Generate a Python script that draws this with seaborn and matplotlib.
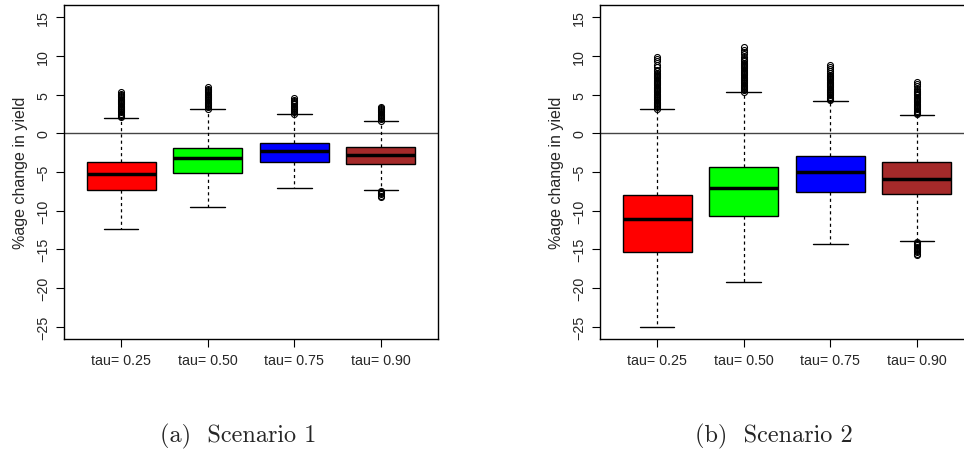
import numpy as np
import seaborn as sns
import matplotlib.pyplot as plt

# tau levels shown on the x axis
tau_labels = ['tau= 0.25', 'tau= 0.50', 'tau= 0.75', 'tau= 0.90']
box_colors = ['#ff0000', '#00ff00', '#0000ff', '#a52a2a']

# Scenario 1 box statistics
s1_whislo = [-12.4, -9.55, -7.1, -7.3]
s1_q1 = [-7.35, -5.1, -3.7, -4.0]
s1_med = [-5.2, -3.25, -2.3, -2.85]
s1_q3 = [-3.65, -1.85, -1.3, -1.8]
s1_whishi = [2.0, 3.1, 2.45, 1.55]
s1_fliers = [
    [2.1, 2.25, 2.4, 2.55, 2.7, 2.85, 3.0, 3.15, 3.3, 3.45, 3.6, 3.75, 3.9, 4.05, 4.2,
     4.35, 4.5, 4.65, 4.8, 4.95, 5.1, 5.3],
    [3.2, 3.35, 3.5, 3.65, 3.8, 3.95, 4.1, 4.25, 4.4, 4.55, 4.7, 4.85, 5.0, 5.15, 5.3,
     5.45, 5.6, 5.75, 5.95],
    [2.55, 2.7, 2.85, 3.0, 3.15, 3.3, 3.45, 3.6, 3.75, 3.9, 4.05, 4.2, 4.35, 4.55],
    [1.65, 1.8, 1.95, 2.1, 2.25, 2.4, 2.55, 2.7, 2.85, 3.0, 3.15, 3.3, 3.45,
     -7.45, -7.6, -7.75, -7.9, -8.05, -8.2],
]

# Scenario 2 box statistics
s2_whislo = [-25.0, -19.25, -14.3, -13.95]
s2_q1 = [-15.35, -10.75, -7.6, -7.85]
s2_med = [-11.1, -7.05, -4.95, -5.9]
s2_q3 = [-8.0, -4.35, -2.9, -3.75]
s2_whishi = [3.1, 5.3, 4.2, 2.4]
s2_fliers = [
    [3.2, 3.35, 3.5, 3.65, 3.8, 3.95, 4.1, 4.25, 4.4, 4.55, 4.7, 4.85, 5.0, 5.15, 5.3,
     5.45, 5.6, 5.75, 5.9, 6.05, 6.2, 6.35, 6.5, 6.65, 6.8, 6.95, 7.1, 7.25, 7.4, 7.55,
     7.7, 7.85, 8.0, 8.2, 8.6, 8.9, 9.3, 9.6, 9.85],
    [5.4, 5.55, 5.7, 5.85, 6.0, 6.15, 6.3, 6.45, 6.6, 6.75, 6.9, 7.05, 7.2, 7.35, 7.5,
     7.65, 7.8, 7.95, 8.1, 8.25, 8.4, 8.55, 8.7, 8.85, 9.0, 9.15, 9.3, 9.45, 9.6, 9.9,
     10.2, 10.5, 10.8, 11.2],
    [4.3, 4.45, 4.6, 4.75, 4.9, 5.05, 5.2, 5.35, 5.5, 5.65, 5.8, 5.95, 6.1, 6.25, 6.4,
     6.55, 6.7, 6.85, 7.0, 7.15, 7.3, 7.45, 7.6, 7.75, 8.0, 8.3, 8.6, 8.85],
    [2.5, 2.65, 2.8, 2.95, 3.1, 3.25, 3.4, 3.55, 3.7, 3.85, 4.0, 4.15, 4.3, 4.45, 4.6,
     4.75, 4.9, 5.05, 5.2, 5.35, 5.5, 5.8, 6.1, 6.4, 6.6,
     -14.05, -14.2, -14.35, -14.5, -14.65, -14.8, -14.95, -15.1, -15.25, -15.4, -15.55, -15.7],
]

panels = [
    ('(a)  Scenario 1', s1_whislo, s1_q1, s1_med, s1_q3, s1_whishi, s1_fliers),
    ('(b)  Scenario 2', s2_whislo, s2_q1, s2_med, s2_q3, s2_whishi, s2_fliers),
]

sns.set_style('ticks')
plt.rcParams['font.family'] = ['Liberation Sans', 'DejaVu Sans']

fig = plt.figure(figsize=(9.64, 4.52), dpi=100)
ax_lefts = [64 / 964, 600 / 964]
caption_x = [238 / 964, 774 / 964]

for i, (caption, wlo, q1, med, q3, whi, fl) in enumerate(panels):
    ax = fig.add_axes([ax_lefts[i], 112 / 452, 374 / 964, 334 / 452])
    stats = []
    for k in range(len(tau_labels)):
        stats.append(dict(whislo=wlo[k], q1=q1[k], med=med[k], q3=q3[k],
                          whishi=whi[k], fliers=fl[k], label=tau_labels[k]))
    bp = ax.bxp(stats, positions=np.arange(1, 5), widths=0.8, capwidths=0.4,
                patch_artist=True, showfliers=True,
                boxprops=dict(edgecolor='black', linewidth=1.0),
                medianprops=dict(color='black', linewidth=2.5, solid_capstyle='butt'),
                whiskerprops=dict(color='black', linewidth=0.9, linestyle=(0, (2.5, 2.5))),
                capprops=dict(color='black', linewidth=1.0),
                flierprops=dict(marker='o', markersize=4.3, markerfacecolor='none',
                                markeredgecolor='black', markeredgewidth=0.8))
    for patch, c in zip(bp['boxes'], box_colors):
        patch.set_facecolor(c)
    ax.axhline(0, color='#444444', linewidth=1.0, zorder=0)

    ax.set_xlim(0.34, 4.66)
    ax.set_ylim(-26.6, 16.6)
    ax.set_yticks([-25, -20, -15, -10, -5, 0, 5, 10, 15])
    ax.set_yticklabels(['\u221225', '\u221220', '\u221215', '\u221210', '\u22125',
                        '0', '5', '10', '15'], rotation=90, va='center')
    ax.set_xticks(np.arange(1, 5))
    ax.set_xticklabels(tau_labels)
    ax.tick_params(axis='both', labelsize=10.3, length=6, width=0.8, color='black',
                   direction='out', pad=4)
    ax.tick_params(axis='x', pad=4)
    ax.set_ylabel('%age change in yield', fontsize=11.5, labelpad=6)
    for sp in ax.spines.values():
        sp.set_visible(True)
        sp.set_color('black')
        sp.set_linewidth(1.0)
    fig.text(caption_x[i], 16 / 452, caption, family='cmr10', fontsize=17.5,
             ha='center', va='center')

fig.savefig('out.png', dpi=100)
